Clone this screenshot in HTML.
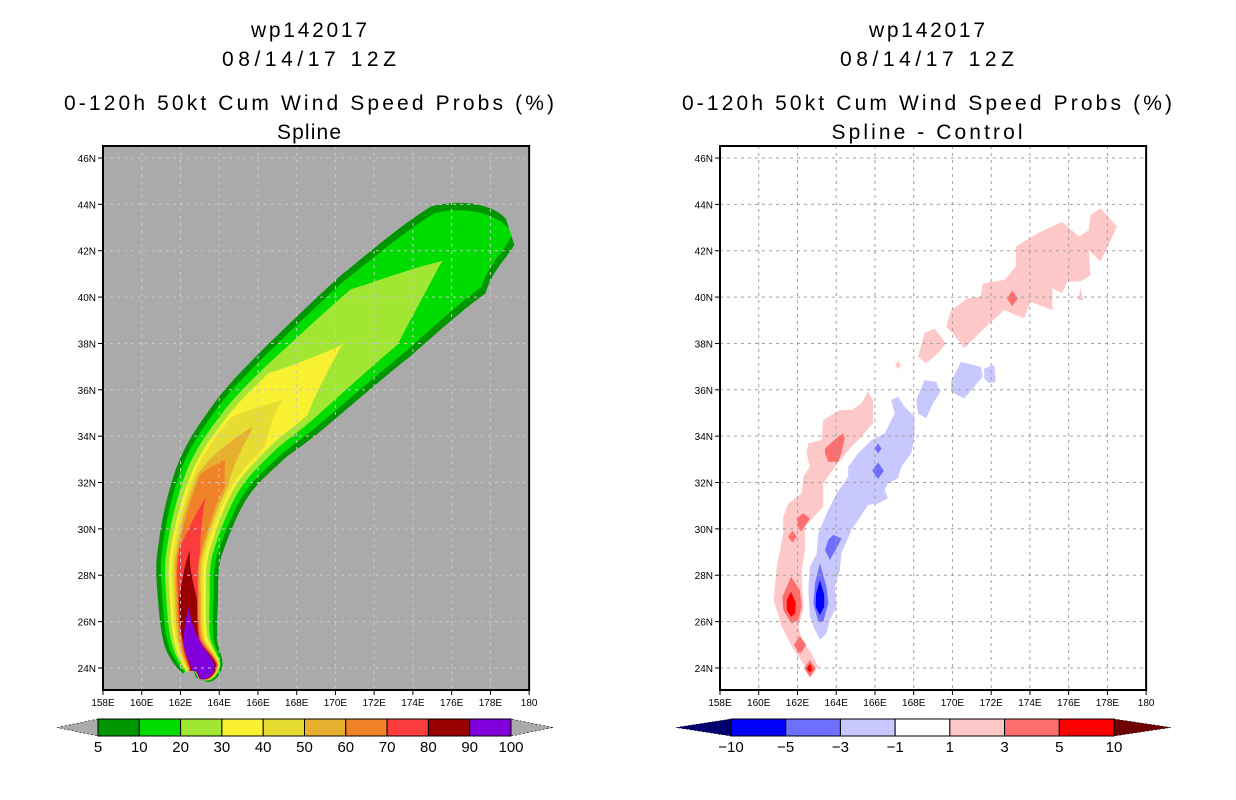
<!DOCTYPE html>
<html><head><meta charset="utf-8"><style>
html,body{margin:0;padding:0;background:#fff;}
svg{display:block;font-family:"Liberation Sans",sans-serif;}
</style></head><body>
<svg id="svg" width="1236" height="800" viewBox="0 0 1236 800" xmlns="http://www.w3.org/2000/svg">
<g id="titles" font-size="21" fill="#000">
<text x="309" y="37" text-anchor="middle" textLength="116">wp142017</text>
<text x="309" y="66" text-anchor="middle" textLength="174">08/14/17 12Z</text>
<text x="309" y="110" text-anchor="middle" textLength="490">0-120h 50kt Cum Wind Speed Probs (%)</text>
<text x="309" y="139" text-anchor="middle" textLength="64">Spline</text>
<text x="927" y="37" text-anchor="middle" textLength="116">wp142017</text>
<text x="927" y="66" text-anchor="middle" textLength="174">08/14/17 12Z</text>
<text x="927" y="110" text-anchor="middle" textLength="490">0-120h 50kt Cum Wind Speed Probs (%)</text>
<text x="927" y="139" text-anchor="middle" textLength="191">Spline - Control</text>
</g>
<g id="left"></g>
<g id="right"></g>
<g id="cbars"></g>
</svg>
<script>
const NS="http://www.w3.org/2000/svg";
// ---- data ----
const lonTicks=[158,160,162,164,166,168,170,172,174,176,178,180];
const latTicks=[24,26,28,30,32,34,36,38,40,42,44,46];
// swath track (lon, lat) and outer half-width (deg)
const trackLon=[163.01,163.17,162.55,162.39,162.49,163.68,165.49,167.56,172.0,176.34,179.02];
const trackLat=[23.52,24.0,25.17,26.93,29.09,32.11,34.18,35.82,39.14,42.03,42.81];
const outerHalf=[0.2,1.03,1.39,1.55,1.65,2.0,2.3,2.55,2.75,2.65,0.7];
const probLevels=[5,10,20,30,40,50,60,70,80,90,100];
const probColors=["#009600","#00dc00","#a0e632","#faf032","#e6dc32","#e6af2d","#f08228","#fa3c3c","#960000","#8200dc"];
const f5 =[1,1,1,1,1,1,1,1,1,1,1];
const f10=[0.5,0.92,0.85,0.85,0.86,0.87,0.88,0.88,0.88,0.85,0.3];
const f20=[0.3,0.88,0.72,0.72,0.72,0.72,0.72,0.72,0.68,-0.2,-1];
const f30=[0,0.84,0.62,0.6,0.6,0.58,0.58,0.58,-0.3,-1,-1];
const f40=[0,0.81,0.52,0.5,0.5,0.5,0.5,-0.05,-1,-1,-1];
const f50=[0,0.78,0.45,0.43,0.42,0.42,0.05,-0.3,-1,-1,-1];
const f60=[0,0.76,0.4,0.37,0.36,0.35,-0.5,-1,-1,-1,-1];
const f70=[0,0.73,0.34,0.33,0.33,-0.1,-1,-1,-1,-1,-1];
const f80=[0,0.68,0.3,0.3,0,-1,-1,-1,-1,-1,-1];
const f90=[0,0.6,0.3,-0.05,-1,-1,-1,-1,-1,-1,-1];
// difference blobs [lon,lat] polygons
const diffLevels=[-10,-5,-3,-1,1,3,5,10];
const diffColors=["#00006e","#0000ff","#6e6eff","#c8c8ff","#ffffff","#ffc8c8","#ff6e6e","#ff0000","#6e0000"];
const pinkNE=[[177.13,43.54],[177.64,43.83],[178.5,43.04],[177.64,41.53],[177.04,42.03],[177.13,40.95],[176.61,40.67],[175.93,40.67],[175.67,40.16],[175.16,40.38],[175.16,39.44],[174.04,39.8],[173.7,39.08],[172.67,39.44],[171.64,38.65],[170.62,37.79],[170.02,38.44],[169.67,38.72],[169.93,39.44],[170.79,39.95],[171.47,40.02],[171.56,40.59],[172.67,40.74],[173.27,41.31],[173.27,42.17],[174.39,42.75],[175.67,43.25],[176.53,42.61],[177.04,42.89]];
const pinkSmall=[[176.61,40.38],[176.75,39.87],[176.48,39.87]];
const pink38=[[168.22,37.43],[168.56,38.44],[169.07,38.65],[169.67,38.0],[169.24,37.57],[168.64,37.14]];
const pinkWest=[[165.64,35.92],[165.9,35.56],[165.9,34.55],[165.13,33.83],[164.79,33.55],[163.93,32.68],[163.33,31.96],[163.33,30.96],[162.39,30.1],[162.39,29.09],[162.22,28.22],[162.3,26.5],[162.05,25.78],[162.22,25.21],[162.73,24.63],[163.07,24.06],[162.64,23.55],[162.39,24.06],[161.7,24.92],[161.19,25.78],[160.76,26.93],[160.93,28.37],[161.27,29.81],[161.27,30.53],[161.53,31.1],[162.22,31.53],[162.3,32.25],[162.64,32.68],[162.47,33.26],[162.56,33.69],[163.24,33.83],[163.33,34.7],[164.19,35.13],[164.79,35.13],[165.3,35.41]];
const blueA=[[168.13,35.56],[168.56,36.42],[169.16,36.35],[169.38,35.92],[168.99,35.41],[168.64,34.77],[168.22,34.98]];
const blueB=[[169.93,36.35],[170.44,37.21],[171.47,36.99],[171.56,36.57],[170.62,35.63],[169.93,35.92]];
const blueC=[[171.64,36.93],[172.16,37.07],[172.24,36.35],[171.9,36.28],[171.64,36.49]];
const blueLong=[[166.84,35.56],[167.19,35.7],[167.53,35.27],[168.04,34.84],[168.04,33.98],[167.87,33.26],[167.36,32.68],[167.19,32.18],[166.67,31.96],[166.5,31.68],[166.67,31.32],[166.16,31.1],[165.64,31.03],[164.79,29.95],[164.27,28.95],[164.19,28.22],[163.93,27.5],[164.02,26.64],[163.67,26.07],[163.5,25.49],[163.16,25.21],[162.9,25.64],[162.64,26.21],[162.56,27.36],[162.64,28.37],[162.99,28.95],[163.07,29.81],[163.59,30.81],[164.02,31.53],[164.62,32.25],[164.62,32.68],[165.13,33.26],[165.82,33.83],[166.5,34.12],[167.02,34.98]];
const salmon34=[[163.42,33.47],[164.1,33.98],[164.36,34.12],[164.44,33.91],[164.27,33.26],[164.1,32.9],[163.59,32.9],[163.42,33.26]];
const salmon30=[[161.96,30.45],[162.3,30.67],[162.64,30.45],[162.18,29.88],[162.04,30.1]];
const salmon27=[[161.67,27.94],[162.13,27.36],[162.22,26.64],[162.05,26.07],[161.7,25.92],[161.27,26.5],[161.22,27.07]];
const red27=[[161.67,27.29],[161.92,26.79],[161.87,26.35],[161.67,26.21],[161.45,26.5],[161.45,26.93]];
const blueMid29=[[163.59,29.52],[163.84,29.74],[164.27,29.59],[164.02,29.16],[163.67,28.66],[163.42,29.09]];
const blueMid27=[[163.16,28.51],[163.5,27.5],[163.59,26.79],[163.33,25.99],[163.07,25.99],[162.82,26.79],[162.9,27.65]];
const blueDark27=[[163.16,27.79],[163.38,27.15],[163.38,26.64],[163.16,26.28],[162.94,26.64],[162.96,27.22]];
// small spots: lon, lat, radius(deg), color index
const spotLon=[167.19,173.09,161.74,162.13,162.64,162.64,166.16,166.16];
const spotLat=[37.07,39.94,29.66,24.99,23.98,23.98,33.47,32.51];
const spotR=[0.15,0.28,0.22,0.32,0.3,0.16,0.18,0.3];
const spotC=[5,6,6,6,6,7,2,2];

// ---- axes ----
const LON0=158,LAT0=46,PXLON=19.37,PXLAT=23.18,MAPTOP=146,MAPBOT=690,YLAT0=158;
function mk(tag,attrs,parent){const e=document.createElementNS(NS,tag);for(const k in attrs)e.setAttribute(k,attrs[k]);if(parent)parent.appendChild(e);return e;}
function xs(x0){return lon=>x0+(lon-LON0)*PXLON;}
const ys=lat=>YLAT0+(LAT0-lat)*PXLAT;

function drawFrame(g,x0,gridColor,prefix){
  const X=xs(x0),x1=X(180);
  const grid=mk('g',{},g);
  
  
  lonTicks.forEach(l=>{if(l>158&&l<180)mk('line',{x1:X(l),x2:X(l),y1:MAPTOP,y2:MAPBOT,stroke:gridColor,'stroke-width':1,'stroke-dasharray':'3 4'},grid);});
  latTicks.forEach(l=>{mk('line',{x1:x0,x2:x1,y1:ys(l),y2:ys(l),stroke:gridColor,'stroke-width':1,'stroke-dasharray':'3 4'},grid);});
  const fr=mk('rect',{x:x0,y:MAPTOP,width:x1-x0,height:MAPBOT-MAPTOP,fill:'none',stroke:'#000','stroke-width':2},g);
  
  
  const ax=mk('g',{'font-size':10,fill:'#000'},g);
  
  
  lonTicks.forEach(l=>{
    mk('line',{x1:X(l),x2:X(l),y1:MAPBOT,y2:MAPBOT+5,stroke:'#000'},ax);
    const t=mk('text',{x:X(l),y:MAPBOT+16,'text-anchor':'middle'},ax);
    t.textContent=l===180?'180':l+'E';
    
    
  });
  latTicks.forEach(l=>{
    mk('line',{x1:x0-5,x2:x0,y1:ys(l),y2:ys(l),stroke:'#000'},ax);
    const t=mk('text',{x:x0-7,y:ys(l)+4,'text-anchor':'end'},ax);
    t.textContent=l+'N';
    
    
  });
}

// ---- left panel ----
const L=document.getElementById('left');
const XL=xs(103);
mk('rect',{x:103,y:MAPTOP,width:XL(180)-103,height:MAPBOT-MAPTOP,fill:'#aaaaaa'},L);
function cr(p0,p1,p2,p3,t){const t2=t*t,t3=t2*t;return 0.5*((2*p1)+(-p0+p2)*t+(2*p0-5*p1+4*p2-p3)*t2+(-p0+3*p1-3*p2+p3)*t3);}
function swath(fr){
  const n=trackLon.length,N=24;const P=[],H=[];
  const px=trackLon.map(XL),py=trackLat.map(ys);
  for(let i=0;i<n-1;i++){
    for(let k=0;k<N;k++){const t=k/N;
      const a=Math.max(i-1,0),d=Math.min(i+2,n-1);
      P.push([cr(px[a],px[i],px[i+1],px[d],t),cr(py[a],py[i],py[i+1],py[d],t)]);
      const h0=outerHalf[i]*fr[i],h1=outerHalf[i+1]*fr[i+1];
      H.push((h0+(h1-h0)*t)*PXLON);
    }}
  P.push([px[n-1],py[n-1]]);H.push(outerHalf[n-1]*fr[n-1]*PXLON);
  const Hc=H.map(h=>Math.max(0,h));
  const left=[],right=[];
  for(let i=0;i<P.length;i++){
    const near=Hc[i]>0||(i>0&&Hc[i-1]>0)||(i<P.length-1&&Hc[i+1]>0);
    if(!near) continue;
    const a=P[Math.max(i-1,0)],b=P[Math.min(i+1,P.length-1)];
    let dx=b[0]-a[0],dy=b[1]-a[1];const m=Math.hypot(dx,dy)||1;dx/=m;dy/=m;
    left.push([P[i][0]+dy*Hc[i],P[i][1]-dx*Hc[i]]);
    right.push([P[i][0]-dy*Hc[i],P[i][1]+dx*Hc[i]]);
  }
  return left.concat(right.reverse());
}
const fracs=[f5,f10,f20,f30,f40,f50,f60,f70,f80,f90];
const sw=mk('g',{},L);


fracs.forEach((fr,i)=>{
  const pts=swath(fr);
  const p=mk('polygon',{points:pts.map(q=>q[0].toFixed(1)+','+q[1].toFixed(1)).join(' '),fill:probColors[i]},sw);
  
  
});
drawFrame(L,103,'#c8c8c8','left');

// ---- right panel ----
const R=document.getElementById('right');
const XR=xs(720);
const blobs=[[pinkNE,5],[pinkSmall,5],[pink38,5],[pinkWest,5],[blueA,3],[blueB,3],[blueC,3],[blueLong,3],[salmon34,6],[salmon30,6],[salmon27,6],[red27,7],[blueMid29,2],[blueMid27,2],[blueDark27,1]];
const dg=mk('g',{},R);


blobs.forEach(([poly,c])=>{
  const p=mk('polygon',{points:poly.map(q=>XR(q[0]).toFixed(1)+','+ys(q[1]).toFixed(1)).join(' '),fill:diffColors[c]},dg);
  
  
});
spotLon.forEach((lo,i)=>{
  const cx=XR(lo),cy=ys(spotLat[i]),rx=spotR[i]*PXLON,ry=spotR[i]*PXLAT*1.2;
  const p=mk('polygon',{points:`${cx},${cy-ry} ${cx+rx},${cy} ${cx},${cy+ry} ${cx-rx},${cy}`,fill:diffColors[spotC[i]]},dg);
  
  
});
drawFrame(R,720,'#a0a0a0','right');

// ---- colorbars ----
const C=document.getElementById('cbars');
function cbar(x0,x1,tl,tr,colors,labels,leftTri,rightTri,prefix){
  const g=mk('g',{},C);
  
  
  const y0=719,y1=736,ym=727.5,w=(x1-x0)/colors.length;
  mk('polygon',{points:`${tl},${ym} ${x0},${y0} ${x0},${y1}`,fill:leftTri,stroke:'#000','stroke-width':0.6,'stroke-dasharray':'2 2'},g);
  mk('polygon',{points:`${tr},${ym} ${x1},${y0} ${x1},${y1}`,fill:rightTri,stroke:'#000','stroke-width':0.6,'stroke-dasharray':'2 2'},g);
  colors.forEach((c,i)=>{
    const r=mk('rect',{x:x0+i*w,y:y0,width:w,height:y1-y0,fill:c,stroke:'#000','stroke-width':1},g);
    
    
  });
  labels.forEach((l,i)=>{
    const t=mk('text',{x:x0+i*w,y:752,'text-anchor':'middle','font-size':15},g);
    t.textContent=String(l).replace('-','\u2212');
    
    
  });
}
cbar(98,511,57,553,probColors,probLevels,'#aaaaaa','#aaaaaa','left');
cbar(731,1114,676,1171,diffColors.slice(1,8),diffLevels,diffColors[0],diffColors[8],'right');
</script>
</body></html>
